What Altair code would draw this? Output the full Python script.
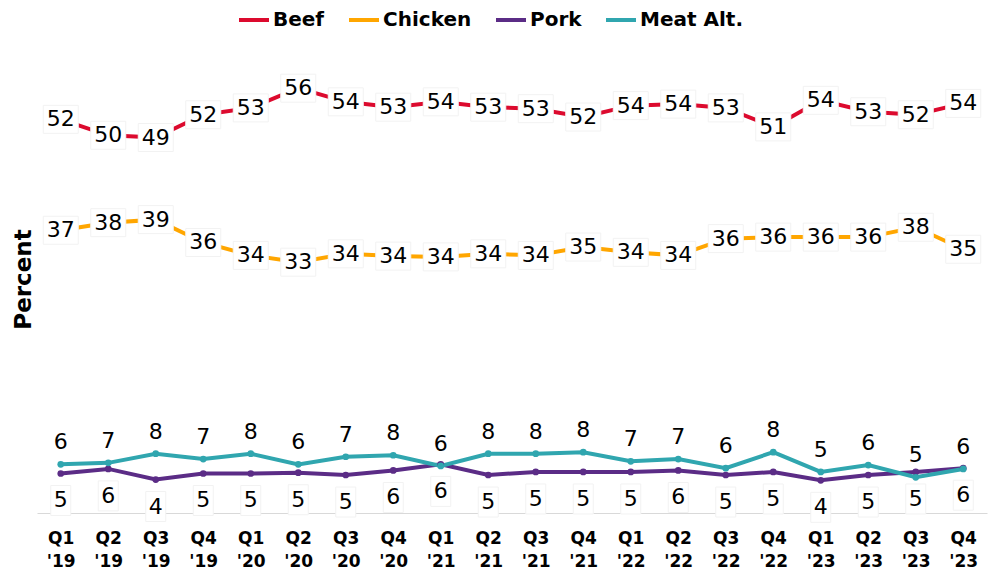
import altair as alt
import pandas as pd

quarters = ["Q1 '19", "Q2 '19", "Q3 '19", "Q4 '19", "Q1 '20", "Q2 '20", "Q3 '20", "Q4 '20",
            "Q1 '21", "Q2 '21", "Q3 '21", "Q4 '21", "Q1 '22", "Q2 '22", "Q3 '22", "Q4 '22",
            "Q1 '23", "Q2 '23", "Q3 '23", "Q4 '23"]
beef = [51.8, 49.7, 49.4, 52.4, 53.3, 55.9, 54.1, 53.4, 54.1, 53.4,
        53.2, 52.1, 53.6, 53.8, 53.3, 50.8, 54.3, 52.8, 52.4, 53.9]
chicken = [37.2, 38.2, 38.6, 35.6, 33.9, 33.0, 34.1, 33.8, 33.7, 34.1,
           33.9, 35.0, 34.3, 33.9, 36.1, 36.3, 36.3, 36.3, 37.6, 34.7]
pork = [5.2, 5.8, 4.4, 5.2, 5.2, 5.3, 5.0, 5.6, 6.4, 5.0,
        5.4, 5.4, 5.4, 5.6, 5.0, 5.4, 4.3, 5.0, 5.4, 5.9]
meat_alt = [6.4, 6.6, 7.8, 7.1, 7.8, 6.4, 7.4, 7.6, 6.2, 7.8,
            7.8, 8.0, 6.8, 7.1, 5.9, 8.0, 5.4, 6.3, 4.7, 5.8]

series_names = ["Beef", "Chicken", "Pork", "Meat Alt."]
series_colors = ["#DC0A2E", "#FFA600", "#5B2C86", "#30A6AF"]

rows = []
for name, vals in zip(series_names, [beef, chicken, pork, meat_alt]):
    for q, v in zip(quarters, vals):
        rows.append({"quarter": q, "series": name, "value": v})
df = pd.DataFrame(rows)

FONT = "DejaVu Sans"

x = alt.X("quarter:N", sort=quarters,
          scale=alt.Scale(type="point", padding=0.5),
          axis=alt.Axis(title=None, labelExpr="split(datum.label, ' ')", labelAngle=0,
                        ticks=False, grid=False, domainColor="#D9D9D9", domainWidth=1,
                        labelFont=FONT, labelFontWeight="bold", labelFontSize=17,
                        labelColor="#000000", labelLineHeight=23, labelPadding=17,
                        labelBaseline="top"))
y = alt.Y("value:Q", scale=alt.Scale(domain=[0, 60], nice=False),
          axis=alt.Axis(title="Percent", labels=False, ticks=False, domain=False, grid=False,
                        titleFont=FONT, titleFontSize=23, titleFontWeight="bold",
                        titleColor="#000000", titleX=-14, titleY=222, titleAngle=270,
                        titleAlign="center", titleBaseline="middle"))
color = alt.Color("series:N", sort=series_names,
                  scale=alt.Scale(domain=series_names, range=series_colors),
                  legend=alt.Legend(title=None, orient="none", direction="horizontal",
                                    legendX=200, legendY=-54,
                                    labelFont=FONT, labelFontWeight="bold", labelFontSize=20,
                                    labelColor="#000000", symbolType="stroke",
                                    symbolStrokeWidth=4, symbolSize=900,
                                    columnPadding=16, labelOffset=2))

base = alt.Chart(df)

lines = base.mark_line(strokeWidth=4).encode(x=x, y=y, color=color)

pork_pts = base.transform_filter(alt.datum.series == "Pork").mark_point(
    filled=True, size=45, opacity=1, color=series_colors[2]).encode(x=x, y=y)
alt_pts = base.transform_filter(alt.datum.series == "Meat Alt.").mark_point(
    filled=True, size=45, opacity=1, color=series_colors[3]).encode(x=x, y=y)

big_box = "M-1,-0.8L1,-0.8L1,0.8L-1,0.8Z"
small_box = "M-1,-1.5L1,-1.5L1,1.5L-1,1.5Z"

top_filter = (alt.datum.series == "Beef") | (alt.datum.series == "Chicken")
top_boxes = base.transform_filter(top_filter).mark_point(
    shape=big_box, size=1225, filled=True, opacity=1, color="white",
    stroke="#F2F2F2", strokeWidth=1).encode(x=x, y=y)
top_text = base.transform_filter(top_filter).mark_text(
    font=FONT, fontSize=22, color="#000000", baseline="middle").encode(
    x=x, y=y, text=alt.Text("value:Q", format=".0f"))

pork_boxes = base.transform_filter(alt.datum.series == "Pork").mark_point(
    shape=small_box, size=400, filled=True, opacity=1, color="white",
    stroke="#F2F2F2", strokeWidth=1, yOffset=27).encode(x=x, y=y)
pork_text = base.transform_filter(alt.datum.series == "Pork").mark_text(
    font=FONT, fontSize=22, color="#000000", baseline="middle", dy=27).encode(
    x=x, y=y, text=alt.Text("value:Q", format=".0f"))
alt_text = base.transform_filter(alt.datum.series == "Meat Alt.").mark_text(
    font=FONT, fontSize=22, color="#000000", baseline="middle", dy=-22).encode(
    x=x, y=y, text=alt.Text("value:Q", format=".0f"))

chart = alt.layer(lines, pork_pts, alt_pts, top_boxes, top_text,
                  pork_boxes, pork_text, alt_text).properties(
    width=950, height=456,
    autosize=alt.AutoSizeParams(type="none"),
    padding={"left": 37, "top": 57, "right": 6, "bottom": 56},
    background="white",
).configure_view(strokeWidth=0)

chart.save("out.html", embed_options={"renderer": "svg", "actions": False})
